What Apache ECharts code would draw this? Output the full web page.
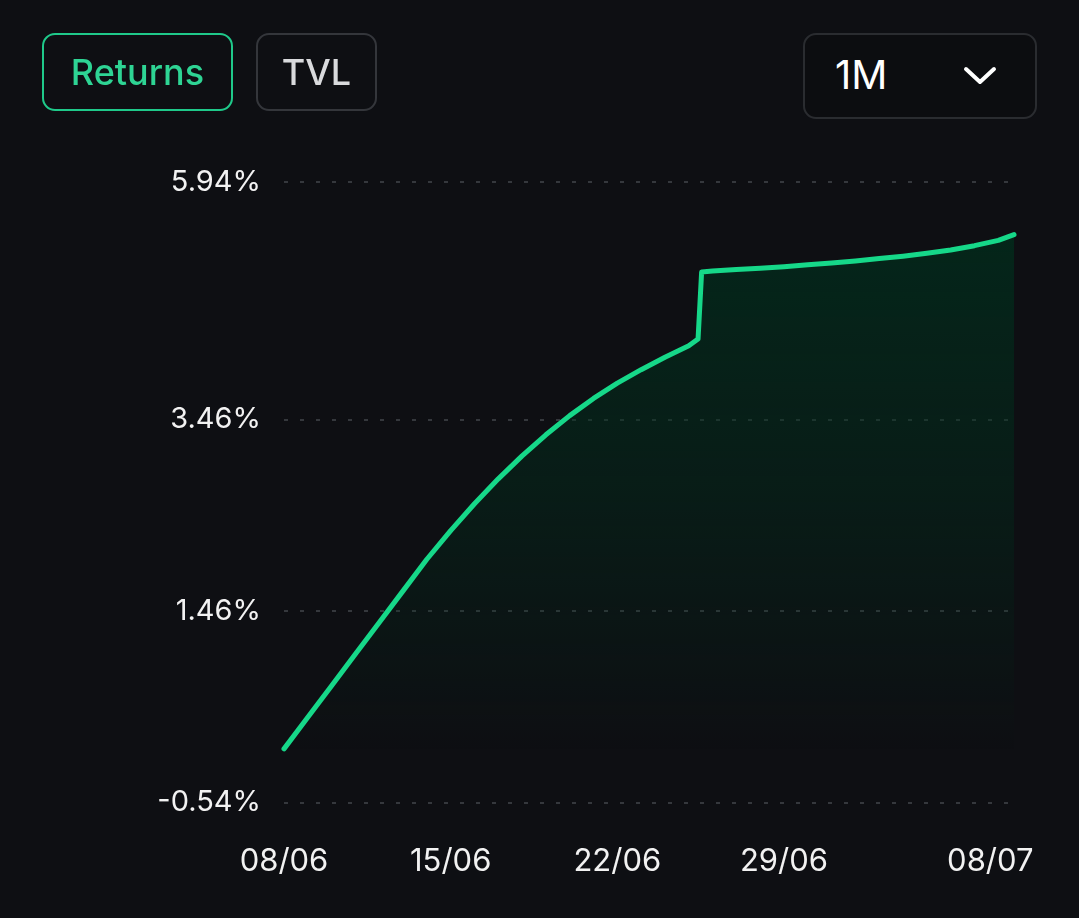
<!DOCTYPE html>
<html>
<head>
<meta charset="utf-8">
<script src="https://cdn.jsdelivr.net/npm/echarts@6/dist/echarts.min.js"></script>
<style>
  html, body { margin: 0; padding: 0; background: #0e0f13; }
  #wrap { position: relative; width: 1079px; height: 918px; overflow: hidden; background: #0e0f13; font-family: Inter, "Noto Sans", sans-serif; }
  #chart { position: absolute; left: 0; top: 0; width: 1079px; height: 918px; }
  .btn { position: absolute; box-sizing: border-box; border-radius: 13px; display: flex; align-items: center; justify-content: center; font-family: Inter, sans-serif; }
  #returns { left: 42px; top: 33px; width: 191px; height: 78px; border: 2px solid #1fc98a; color: #2ed494; font-size: 36px; font-weight: 500; }
  #tvl { left: 256px; top: 33px; width: 121px; height: 78px; border: 2px solid #34363b; color: #d9dadd; font-size: 36px; font-weight: 500; }
  #period { left: 803px; top: 33px; width: 234px; height: 86px; border: 2px solid #2a2c30; background: #0c0d10; color: #ffffff; font-size: 40px; }
  #period span { position: absolute; left: 30px; top: 16px; line-height: 48px; }
  #period svg { position: absolute; left: 158px; top: 30px; }
</style>
</head>
<body>
<div id="wrap">
  <div id="chart"></div>
  <div class="btn" id="returns">Returns</div>
  <div class="btn" id="tvl">TVL</div>
  <div class="btn" id="period"><span>1M</span>
    <svg width="34" height="22" viewBox="0 0 34 22"><polyline points="3,4 17,17 31,4" fill="none" stroke="#ffffff" stroke-width="4" stroke-linecap="round" stroke-linejoin="round"/></svg>
  </div>
</div>
<script>
// Days since 08/06
const days = [0, 1, 2, 3, 4, 5, 6, 7, 8, 9, 10, 11, 12, 13, 14, 15, 16, 17, 17.39, 17.54, 18, 19, 20, 21, 22, 23, 24, 25, 26, 27, 28, 29, 30, 30.66];
// Cumulative returns (%)
const returns = [0.02, 0.35, 0.68, 1.01, 1.34, 1.67, 2.00, 2.30, 2.58, 2.84, 3.08, 3.30, 3.50, 3.68, 3.84, 3.98, 4.11, 4.23, 4.30, 5.00, 5.01, 5.025, 5.04, 5.055, 5.075, 5.095, 5.115, 5.14, 5.165, 5.195, 5.23, 5.275, 5.33, 5.39];
const xTickDays = [0, 7, 14, 21, 30];
const xTickLabels = ['08/06', '15/06', '22/06', '29/06', '08/07'];
const yTicks = [-0.54, 1.46, 3.46, 5.94];

const chart = echarts.init(document.getElementById('chart'), null, { renderer: 'canvas' });
const data = days.map((d, i) => [d, returns[i]]);

chart.setOption({
  backgroundColor: 'transparent',
  animation: false,
  grid: { left: 284, right: 65, top: 182, bottom: 115.5, containLabel: false },
  xAxis: {
    type: 'value',
    min: 0,
    max: days[days.length - 1],
    axisLine: { show: false },
    axisTick: { show: false, customValues: xTickDays },
    splitLine: { show: false },
    axisLabel: {
      customValues: xTickDays,
      margin: 44,
      color: '#f2f2f2',
      fontFamily: 'Inter',
      fontSize: 31,
      formatter: function (v) {
        const i = xTickDays.indexOf(v);
        const t = i >= 0 ? xTickLabels[i] : '';
        return i === xTickDays.length - 1 ? '{last|' + t + '}' : t;
      },
      rich: { last: { fontFamily: 'Inter', fontSize: 31, color: '#f2f2f2', padding: [0, 16, 0, 0] } }
    }
  },
  yAxis: {
    type: 'value',
    min: yTicks[0],
    max: yTicks[yTicks.length - 1],
    axisLine: { show: false },
    axisTick: { show: false, customValues: yTicks },
    axisLabel: {
      customValues: yTicks,
      margin: 23,
      color: '#f2f2f2',
      fontFamily: 'Inter',
      fontSize: 29,
      formatter: v => v.toFixed(2) + '%'
    },
    splitLine: { show: true, lineStyle: { color: '#35383d', width: 2, type: [4, 12] } }
  },
  series: [{
    type: 'line',
    data: data,
    showSymbol: false,
    smooth: false,
    lineStyle: { color: '#16d889', width: 5, cap: 'round', join: 'round' },
    areaStyle: {
      color: new echarts.graphic.LinearGradient(0, 0, 0, 1, [
        { offset: 0, color: 'rgba(0, 50, 30, 0.95)' },
        { offset: 0.5, color: 'rgba(0, 50, 30, 0.55)' },
        { offset: 1, color: 'rgba(0, 50, 30, 0.0)' }
      ])
    }
  }]
});
</script>
</body>
</html>
